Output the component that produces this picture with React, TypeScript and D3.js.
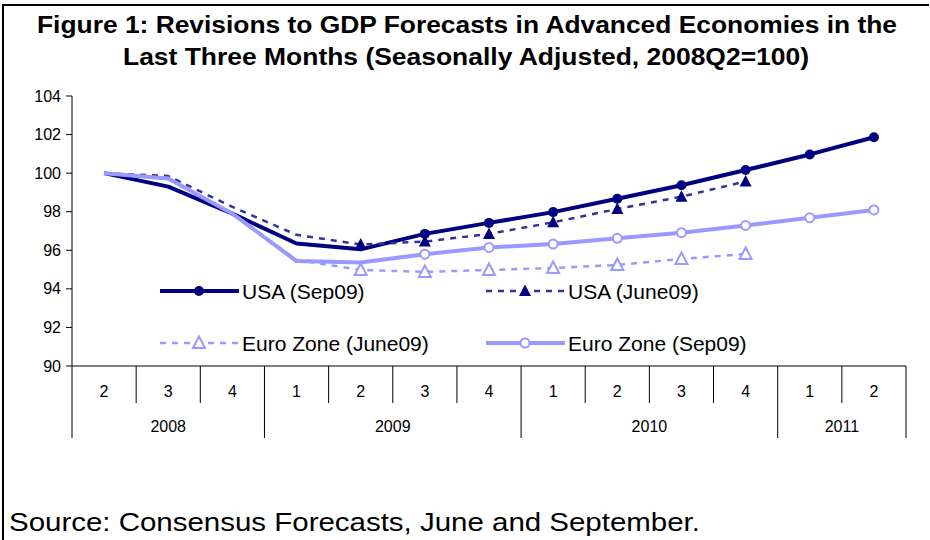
import React from "react";
import * as d3 from "d3";

// quarters on the axis, 2008Q2 .. 2011Q2
const quarters = ["2", "3", "4", "1", "2", "3", "4", "1", "2", "3", "4", "1", "2"];
const years = [
  { label: "2008", from: 0, to: 2 },
  { label: "2009", from: 3, to: 6 },
  { label: "2010", from: 7, to: 10 },
  { label: "2011", from: 11, to: 12 },
];
const yTicks = [90, 92, 94, 96, 98, 100, 102, 104];

// values (2008Q2 = 100)
const usaSep = [100, 99.3, 97.9, 96.35, 96.05, 96.85, 97.42, 97.98, 98.67, 99.37, 100.16, 100.97, 101.86];
const usaJune = [100, 99.85, 98.25, 96.8, 96.3, 96.45, 96.85, 97.45, 98.14, 98.78, 99.57];
const euroJune = [100, 99.7, 97.9, 95.5, 94.98, 94.88, 94.98, 95.08, 95.24, 95.55, 95.81];
const euroSep = [100, 99.72, 97.9, 95.44, 95.37, 95.8, 96.15, 96.32, 96.62, 96.91, 97.29, 97.69, 98.09];

const FONT = "'Liberation Sans', Arial, sans-serif";

type Series = {
  name: string;
  values: number[];
  color: string;
  width: number;
  dash?: string;
  marker: "dot" | "tri" | "opentri" | "ring";
  markerColor: string;
  markFrom: number;
};

const series: Series[] = [
  { name: "USA (Sep09)", values: usaSep, color: "#000080", width: 4, marker: "dot", markerColor: "#000080", markFrom: 5 },
  { name: "USA (June09)", values: usaJune, color: "#333399", width: 2.5, dash: "6,6", marker: "tri", markerColor: "#000080", markFrom: 4 },
  { name: "Euro Zone (June09)", values: euroJune, color: "#9999FF", width: 2.5, dash: "6,6", marker: "opentri", markerColor: "#9999FF", markFrom: 4 },
  { name: "Euro Zone (Sep09)", values: euroSep, color: "#9999FF", width: 4, marker: "ring", markerColor: "#9999FF", markFrom: 5 },
];

const Marker = ({ s, x, y }: { s: Series; x: number; y: number }) => {
  if (s.marker === "dot") return <circle cx={x} cy={y} r={5} fill={s.markerColor} />;
  if (s.marker === "ring")
    return <circle cx={x} cy={y} r={4.5} fill="#fff" stroke={s.markerColor} strokeWidth={2} />;
  const p = `M${x},${y - 6.5} L${x + 6},${y + 5} L${x - 6},${y + 5} Z`;
  if (s.marker === "tri") return <path d={p} fill={s.markerColor} />;
  return <path d={p} fill="#fff" stroke={s.markerColor} strokeWidth={2} />;
};

const App = () => {
  const width = 930;
  const height = 540;
  const left = 72;
  const right = 906;
  const top = 96;
  const bottom = 366;

  const x = d3.scaleBand<number>().domain(d3.range(quarters.length)).range([left, right]);
  const y = d3.scaleLinear().domain([90, 104]).range([bottom, top]);
  const cx = (i: number) => (x(i) as number) + x.bandwidth() / 2;

  const line = d3
    .line<number>()
    .x((_, i) => cx(i))
    .y((d) => y(d));

  const legend = [
    { s: series[0], lx: 160, ly: 291 },
    { s: series[1], lx: 486, ly: 291 },
    { s: series[2], lx: 160, ly: 343 },
    { s: series[3], lx: 486, ly: 343 },
  ];

  const yearEdges = new Set<number>([0, ...years.map((g) => g.to + 1)]);

  return (
    <svg width={width} height={height} style={{ position: "absolute", left: 0, top: 0, background: "#fff" }} fontFamily={FONT}>
      <rect x={0} y={0} width={width} height={height} fill="#fff" />
      <line x1={3} y1={5} x2={929} y2={5} stroke="#000" strokeWidth={2} />
      <line x1={3} y1={4} x2={3} y2={540} stroke="#000" strokeWidth={2} />

      <text x={467} y={33} textAnchor="middle" fontSize={23} fontWeight="bold" textLength={860} lengthAdjust="spacingAndGlyphs">
        Figure 1: Revisions to GDP Forecasts in Advanced Economies in the
      </text>
      <text x={466} y={65} textAnchor="middle" fontSize={23} fontWeight="bold" textLength={686} lengthAdjust="spacingAndGlyphs">
        Last Three Months (Seasonally Adjusted, 2008Q2=100)
      </text>

      {/* y axis */}
      <line x1={left} y1={top} x2={left} y2={bottom} stroke="#000" />
      {yTicks.map((t) => (
        <g key={t}>
          <line x1={left - 6} x2={left} y1={y(t)} y2={y(t)} stroke="#000" />
          <text x={left - 11} y={y(t)} dy="0.35em" textAnchor="end" fontSize={16}>
            {t}
          </text>
        </g>
      ))}

      {/* x axis, two-level categories */}
      <line x1={left} y1={bottom} x2={right} y2={bottom} stroke="#000" />
      {d3.range(quarters.length + 1).map((i) => {
        const xx = i < quarters.length ? (x(i) as number) : right;
        return (
          <line key={i} x1={xx} x2={xx} y1={bottom} y2={yearEdges.has(i) ? 438 : 403} stroke="#000" />
        );
      })}
      {quarters.map((q, i) => (
        <text key={i} x={cx(i)} y={391} dy="0.35em" textAnchor="middle" fontSize={16}>
          {q}
        </text>
      ))}
      {years.map((g) => (
        <text key={g.label} x={(cx(g.from) + cx(g.to)) / 2} y={426} dy="0.35em" textAnchor="middle" fontSize={16}>
          {g.label}
        </text>
      ))}

      {/* series */}
      {series.map((s) => (
        <g key={s.name}>
          <path d={line(s.values) ?? ""} fill="none" stroke={s.color} strokeWidth={s.width} strokeDasharray={s.dash} strokeLinejoin="round" />
          {s.values.map((v, i) => (i >= s.markFrom ? <Marker key={i} s={s} x={cx(i)} y={y(v)} /> : null))}
        </g>
      ))}

      {/* legend */}
      {legend.map(({ s, lx, ly }) => (
        <g key={s.name}>
          <line x1={lx} x2={lx + 79} y1={ly} y2={ly} stroke={s.color} strokeWidth={s.width} strokeDasharray={s.dash} />
          <Marker s={s} x={lx + 39} y={ly} />
          <text x={lx + 82} y={ly} dy="0.36em" fontSize={21}>
            {s.name}
          </text>
        </g>
      ))}

      <text x={9} y={531} fontSize={25} textLength={691} lengthAdjust="spacingAndGlyphs">
        Source: Consensus Forecasts, June and September.
      </text>
    </svg>
  );
};

export default App;
